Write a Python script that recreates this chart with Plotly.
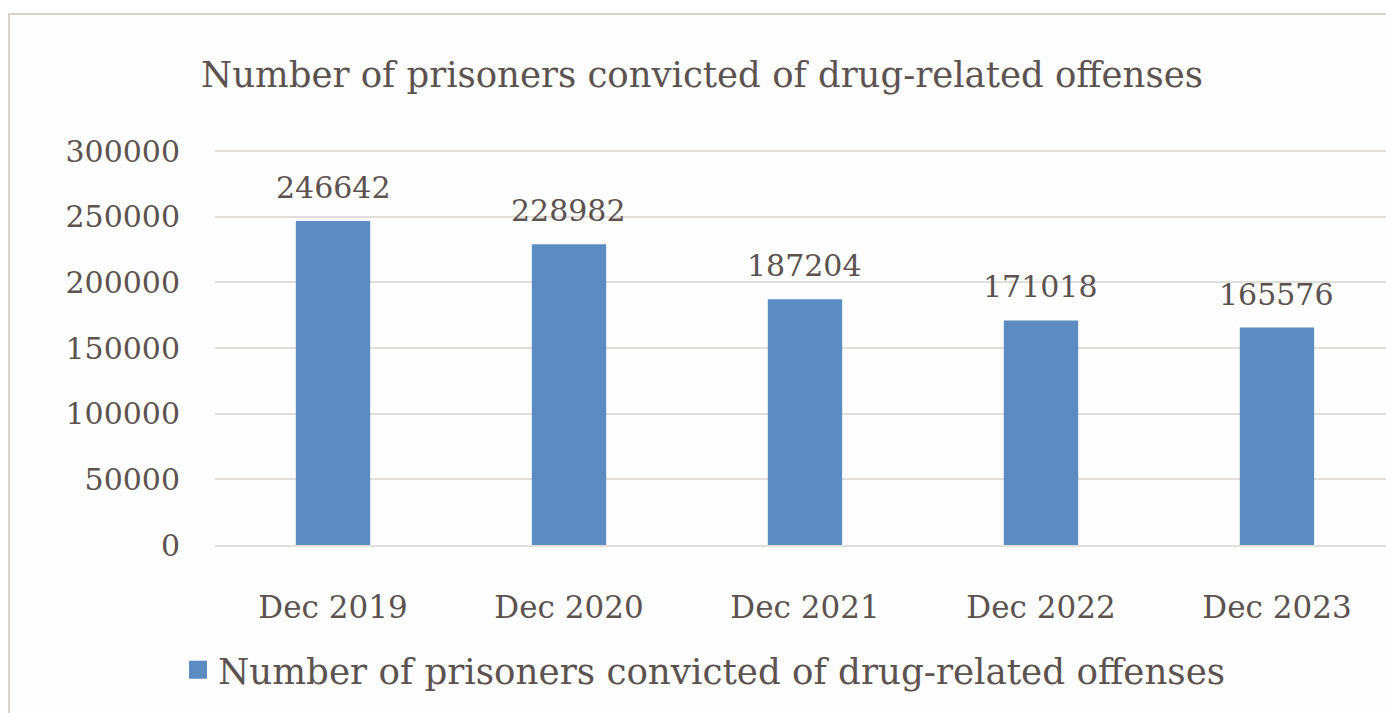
import plotly.graph_objects as go

# Prisoners convicted of drug-related offenses, year-end counts
periods = ["Dec 2019", "Dec 2020", "Dec 2021", "Dec 2022", "Dec 2023"]
prisoners = [246642, 228982, 187204, 171018, 165576]
y_ticks = [0, 50000, 100000, 150000, 200000, 250000, 300000]

series_name = "Number of prisoners convicted of drug-related offenses"
title_text = "Number of prisoners convicted of drug-related offenses"

FONT = "DejaVu Serif"
TEXT = "#5c5250"
BAR = "#5b8bc1"
GRID = "#e2dedb"

W, H = 1386, 713
L, R, T, B = 215, 0, 140, 168
plot_w = W - L - R
plot_h = H - T - B
# 300000 sits 11 px below the top of the plotting area
y_max = 300000 * plot_h / (plot_h - 11)

fig = go.Figure()
fig.add_trace(go.Bar(
    x=periods, y=prisoners, name=series_name,
    marker=dict(color=BAR, line=dict(width=0)),
    width=0.315, showlegend=False,
))
# legend key with a larger square swatch
fig.add_trace(go.Scatter(
    x=[periods[0]], y=[None], name=series_name, mode="markers",
    marker=dict(symbol="square", size=20, color=BAR,
                line=dict(color=BAR, width=2)),
    showlegend=True, hoverinfo="skip",
))

# value labels above each bar
for p, v in zip(periods, prisoners):
    fig.add_annotation(x=p, y=v, text=str(v), showarrow=False,
                       yanchor="bottom", yshift=14,
                       font=dict(family=FONT, size=30, color=TEXT))


def px_x(px):
    return (px - L) / plot_w


def px_y(py):
    return (H - B - py) / plot_h


# chart frame
fig.add_shape(type="rect", xref="paper", yref="paper",
              x0=px_x(9), x1=px_x(W + 20), y0=px_y(H + 20), y1=px_y(14),
              line=dict(color="#d6d3d1", width=2), fillcolor="#fdfdfd",
              layer="below")

fig.update_layout(
    width=W, height=H,
    margin=dict(l=L, r=R, t=T, b=B, pad=0),
    paper_bgcolor="white", plot_bgcolor="rgba(0,0,0,0)",
    font=dict(family=FONT, size=30, color=TEXT),
    title=dict(text=title_text, x=702 / W, xanchor="center",
               y=1 - 75 / H, yanchor="middle",
               font=dict(family=FONT, size=35.5, color=TEXT)),
    xaxis=dict(type="category", range=[-0.5, 4.462], showgrid=False,
               showline=True, linecolor=GRID, linewidth=2,
               zeroline=False, ticks="",
               ticklabelstandoff=34, tickfont=dict(size=31)),
    yaxis=dict(range=[0, y_max], tickvals=y_ticks,
               ticktext=[str(t) for t in y_ticks],
               showgrid=True, gridcolor=GRID, gridwidth=2,
               zeroline=False, showline=False, ticks="",
               ticklabelstandoff=34, tickfont=dict(size=30)),
    legend=dict(orientation="h", x=px_x(178), xanchor="left",
                y=px_y(670), yanchor="middle", itemsizing="trace",
                font=dict(family=FONT, size=35.7, color=TEXT),
                bgcolor="rgba(0,0,0,0)"),
)

fig.write_html("out.html")
